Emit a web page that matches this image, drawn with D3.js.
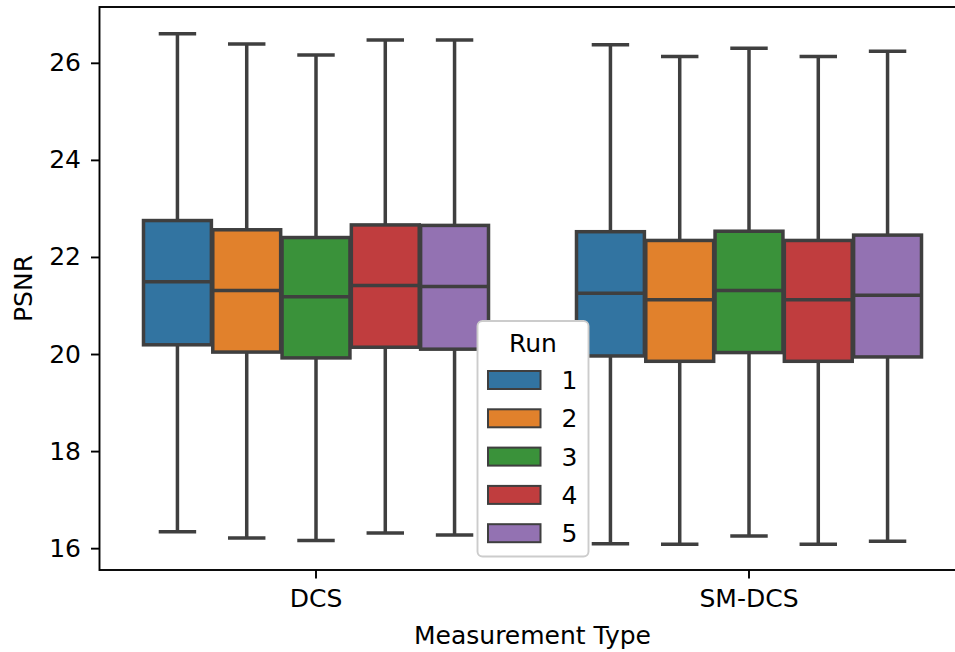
<!DOCTYPE html>
<html>
<head>
<meta charset="utf-8">
<script src="https://cdn.jsdelivr.net/npm/d3@7"></script>
<style>
  body { margin: 0; background: #fff; }
  svg { display: block; font-family: "DejaVu Sans", sans-serif; }
</style>
</head>
<body>
<svg id="chart"></svg>
<script>
// values
const types = ["DCS", "SM-DCS"];
const runs = ["1", "2", "3", "4", "5"];
const colors = ["#3274a1", "#e1812c", "#3a923a", "#c03d3e", "#9372b2"];

const whiskHigh = {
    "DCS":    [26.60, 26.39, 26.16, 26.47, 26.47],
    "SM-DCS": [26.37, 26.13, 26.30, 26.13, 26.24]
};
const q3 = {
    "DCS":    [22.75, 22.56, 22.40, 22.66, 22.65],
    "SM-DCS": [22.52, 22.34, 22.53, 22.34, 22.45]
};
const medians = {
    "DCS":    [21.49, 21.31, 21.18, 21.41, 21.39],
    "SM-DCS": [21.25, 21.12, 21.31, 21.12, 21.21]
};
const q1 = {
    "DCS":    [20.19, 20.04, 19.92, 20.14, 20.10],
    "SM-DCS": [19.96, 19.85, 20.03, 19.85, 19.94]
};
const whiskLow = {
    "DCS":    [16.34, 16.21, 16.16, 16.31, 16.27],
    "SM-DCS": [16.09, 16.08, 16.25, 16.08, 16.14]
};
const yTicks = [16, 18, 20, 22, 24, 26];

const W = 955, H = 652;
// plot area; the right spine sits just past the picture edge
const plot = { left: 99.5, right: 965.5, top: 7, bottom: 570 };
const lineColor = "#3f3f3f";
const fontSize = 25;

const svg = d3.select("#chart").attr("width", W).attr("height", H);

const x = d3.scaleBand().domain(types).range([plot.left, plot.right]);
const bw = x.bandwidth();
const xHue = d3.scaleBand().domain(runs).range([0.1 * bw, 0.9 * bw]);
const boxW = xHue.bandwidth() * 0.98;
const y = d3.scaleLinear().domain([15.55, 27.15]).range([plot.bottom, plot.top]);

// flatten into rows for drawing
const rows = [];
types.forEach(function (t) {
    runs.forEach(function (r, i) {
        rows.push({
            type: t, run: r, color: colors[i],
            lo: whiskLow[t][i], q1: q1[t][i], med: medians[t][i],
            q3: q3[t][i], hi: whiskHigh[t][i]
        });
    });
});
const cx = d => x(d.type) + xHue(d.run) + xHue.bandwidth() / 2;

const g = svg.append("g");
const boxes = g.selectAll(".box").data(rows).enter().append("g").attr("class", "box");

// whiskers
boxes.append("line")
    .attr("x1", cx).attr("x2", cx)
    .attr("y1", d => y(d.q3)).attr("y2", d => y(d.hi))
    .attr("stroke", lineColor).attr("stroke-width", 3.5);
boxes.append("line")
    .attr("x1", cx).attr("x2", cx)
    .attr("y1", d => y(d.q1)).attr("y2", d => y(d.lo))
    .attr("stroke", lineColor).attr("stroke-width", 3.5);
// caps
boxes.selectAll(".cap").data(d => [d.lo, d.hi].map(v => ({ v: v, c: cx(d) })))
    .enter().append("line")
    .attr("x1", d => d.c - boxW / 4).attr("x2", d => d.c + boxW / 4)
    .attr("y1", d => y(d.v)).attr("y2", d => y(d.v))
    .attr("stroke", lineColor).attr("stroke-width", 3.5)
    .attr("stroke-linecap", "square");
// boxes
boxes.append("rect")
    .attr("x", d => cx(d) - boxW / 2)
    .attr("width", boxW)
    .attr("y", d => y(d.q3))
    .attr("height", d => y(d.q1) - y(d.q3))
    .attr("fill", d => d.color)
    .attr("stroke", lineColor).attr("stroke-width", 3.5);
// medians
boxes.append("line")
    .attr("x1", d => cx(d) - boxW / 2).attr("x2", d => cx(d) + boxW / 2)
    .attr("y1", d => y(d.med)).attr("y2", d => y(d.med))
    .attr("stroke", lineColor).attr("stroke-width", 3.5);

// axes
const yAxis = svg.append("g")
    .attr("transform", `translate(${plot.left},0)`)
    .call(d3.axisLeft(y).tickValues(yTicks).tickSize(8.5).tickPadding(10).tickSizeOuter(0));
yAxis.select(".domain").remove();
yAxis.selectAll("line").attr("stroke", "#000").attr("stroke-width", 1.9);
yAxis.selectAll("text").attr("font-size", fontSize).attr("fill", "#000")
    .attr("font-family", "DejaVu Sans");

const xAxis = svg.append("g")
    .attr("transform", `translate(0,${plot.bottom})`)
    .call(d3.axisBottom(x).tickSize(8.5).tickPadding(11).tickSizeOuter(0));
xAxis.select(".domain").remove();
xAxis.selectAll("line").attr("stroke", "#000").attr("stroke-width", 1.9);
xAxis.selectAll("text").attr("font-size", fontSize).attr("fill", "#000")
    .attr("font-family", "DejaVu Sans");

// spines
svg.append("rect")
    .attr("x", plot.left).attr("y", plot.top)
    .attr("width", plot.right - plot.left).attr("height", plot.bottom - plot.top)
    .attr("fill", "none").attr("stroke", "#000").attr("stroke-width", 1.9);

// axis labels
svg.append("text")
    .attr("x", (plot.left + plot.right) / 2).attr("y", 644)
    .attr("text-anchor", "middle").attr("font-size", fontSize)
    .text("Measurement Type");
svg.append("text")
    .attr("transform", `translate(32,${(plot.top + plot.bottom) / 2}) rotate(-90)`)
    .attr("text-anchor", "middle").attr("font-size", fontSize)
    .text("PSNR");

// legend
const leg = svg.append("g");
leg.append("rect")
    .attr("x", 477.5).attr("y", 321)
    .attr("width", 111).attr("height", 235.5)
    .attr("rx", 5).attr("ry", 5)
    .attr("fill", "#fff").attr("stroke", "#cccccc").attr("stroke-width", 1.9);
leg.append("text")
    .attr("x", 533).attr("y", 351.5)
    .attr("text-anchor", "middle").attr("font-size", fontSize)
    .text("Run");
const item = leg.selectAll(".item").data(runs).enter().append("g")
    .attr("transform", (d, i) => `translate(0,${380 + i * 38.3})`);
item.append("rect")
    .attr("x", 488).attr("y", -9).attr("width", 52.5).attr("height", 18)
    .attr("fill", (d, i) => colors[i])
    .attr("stroke", lineColor).attr("stroke-width", 2);
item.append("text")
    .attr("x", 561.5).attr("y", 9)
    .attr("font-size", fontSize)
    .text(d => d);
</script>
</body>
</html>
